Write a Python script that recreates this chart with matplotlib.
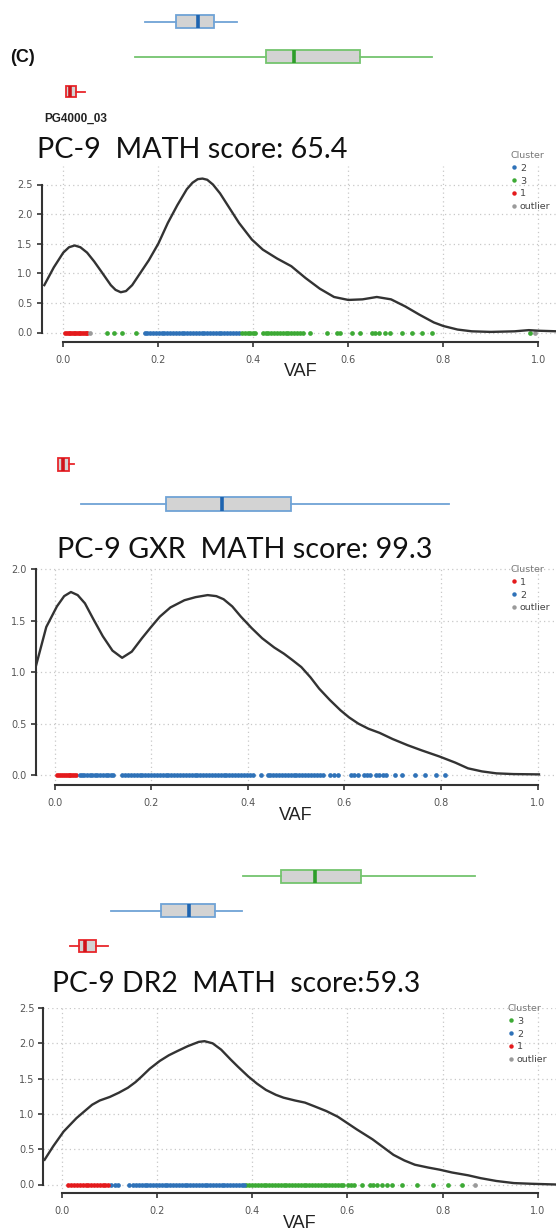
import numpy as np
import matplotlib
matplotlib.use("Agg")
import matplotlib.pyplot as plt
from matplotlib.lines import Line2D

# ---- data ----
# density curves: VAF -> density
p1_x = [-0.040, -0.020, 0.000, 0.012, 0.024, 0.036, 0.050, 0.065, 0.080, 0.100, 0.110, 0.121,
        0.132, 0.145, 0.160, 0.180, 0.200, 0.220, 0.240, 0.260, 0.272, 0.283, 0.293, 0.303,
        0.315, 0.330, 0.350, 0.370, 0.397, 0.420, 0.450, 0.480, 0.510, 0.540, 0.570, 0.600,
        0.630, 0.660, 0.690, 0.720, 0.750, 0.780, 0.800, 0.830, 0.860, 0.900, 0.950, 0.980,
        1.000, 1.040]
p1_y = [0.80, 1.10, 1.35, 1.44, 1.47, 1.44, 1.35, 1.20, 1.03, 0.80, 0.72, 0.68,
        0.70, 0.80, 0.98, 1.22, 1.50, 1.85, 2.15, 2.42, 2.53, 2.59, 2.60, 2.58,
        2.50, 2.35, 2.10, 1.85, 1.57, 1.40, 1.25, 1.12, 0.92, 0.74, 0.60, 0.55,
        0.56, 0.60, 0.56, 0.44, 0.30, 0.17, 0.11, 0.05, 0.02, 0.01, 0.02, 0.04,
        0.03, 0.02]

p2_x = [-0.039, -0.017, 0.005, 0.020, 0.034, 0.048, 0.063, 0.080, 0.100, 0.120, 0.140, 0.160,
        0.181, 0.200, 0.218, 0.240, 0.269, 0.292, 0.317, 0.335, 0.350, 0.368, 0.386, 0.408,
        0.430, 0.455, 0.475, 0.492, 0.511, 0.530, 0.548, 0.570, 0.592, 0.610, 0.629, 0.650,
        0.673, 0.700, 0.731, 0.760, 0.797, 0.830, 0.856, 0.885, 0.915, 0.950, 1.003]
p2_y = [1.05, 1.44, 1.64, 1.74, 1.78, 1.75, 1.67, 1.52, 1.35, 1.21, 1.14, 1.20,
        1.33, 1.44, 1.54, 1.63, 1.70, 1.73, 1.75, 1.74, 1.71, 1.64, 1.54, 1.43,
        1.33, 1.24, 1.18, 1.12, 1.05, 0.95, 0.84, 0.73, 0.63, 0.56, 0.50, 0.45,
        0.41, 0.35, 0.29, 0.24, 0.18, 0.12, 0.065, 0.035, 0.016, 0.009, 0.006]

p3_x = [-0.036, -0.018, 0.004, 0.031, 0.050, 0.064, 0.080, 0.101, 0.120, 0.139, 0.155, 0.168,
        0.185, 0.206, 0.225, 0.243, 0.265, 0.288, 0.300, 0.317, 0.335, 0.355, 0.370, 0.392,
        0.410, 0.429, 0.450, 0.466, 0.490, 0.511, 0.530, 0.556, 0.580, 0.600, 0.620, 0.653,
        0.675, 0.697, 0.720, 0.742, 0.770, 0.794, 0.820, 0.854, 0.880, 0.913, 0.950, 0.988,
        1.038]
p3_y = [0.35, 0.54, 0.75, 0.94, 1.05, 1.13, 1.19, 1.24, 1.30, 1.37, 1.45, 1.53,
        1.64, 1.75, 1.83, 1.89, 1.96, 2.02, 2.03, 2.00, 1.91, 1.77, 1.67, 1.53,
        1.43, 1.34, 1.27, 1.23, 1.19, 1.16, 1.11, 1.04, 0.96, 0.87, 0.78, 0.64,
        0.53, 0.42, 0.34, 0.28, 0.24, 0.21, 0.17, 0.13, 0.09, 0.05, 0.02, 0.01,
        0.00]

# VAF of each mutation, by cluster
p1_c1 = [0.004, 0.008, 0.011, 0.015, 0.018, 0.022, 0.025, 0.029, 0.032, 0.036, 0.040, 0.043,
         0.047, 0.050]
p1_c2 = [0.171, 0.177, 0.183, 0.189, 0.195, 0.201, 0.207, 0.213, 0.219, 0.225, 0.231, 0.237,
         0.243, 0.249, 0.255, 0.261, 0.267, 0.273, 0.279, 0.285, 0.291, 0.297, 0.303, 0.309,
         0.315, 0.321, 0.327, 0.333, 0.339, 0.345, 0.351, 0.357, 0.363, 0.369]
p1_c3 = [0.092, 0.106, 0.124, 0.152, 0.376, 0.382, 0.388, 0.394, 0.400, 0.404, 0.420, 0.426,
         0.432, 0.438, 0.444, 0.450, 0.456, 0.462, 0.468, 0.474, 0.480, 0.486, 0.492, 0.498,
         0.504, 0.520, 0.555, 0.576, 0.583, 0.608, 0.625, 0.650, 0.657, 0.664, 0.678, 0.688,
         0.713, 0.734, 0.755, 0.776, 0.983]
p1_out = [0.056, 0.994]

p2_c1 = [0.005, 0.009, 0.013, 0.017, 0.021, 0.025, 0.029, 0.033, 0.037, 0.041, 0.045]
p2_c2 = [0.052, 0.057, 0.062, 0.068, 0.073, 0.078, 0.084, 0.089, 0.094, 0.100, 0.106, 0.111,
         0.116, 0.122, 0.140, 0.146, 0.152, 0.158, 0.164, 0.170, 0.176, 0.182, 0.188, 0.194,
         0.200, 0.206, 0.212, 0.218, 0.224, 0.230, 0.236, 0.242, 0.248, 0.254, 0.260, 0.266,
         0.272, 0.278, 0.284, 0.290, 0.296, 0.302, 0.308, 0.314, 0.320, 0.326, 0.332, 0.338,
         0.344, 0.350, 0.356, 0.362, 0.368, 0.374, 0.380, 0.386, 0.392, 0.398, 0.404, 0.410,
         0.427, 0.441, 0.447, 0.453, 0.459, 0.465, 0.471, 0.477, 0.483, 0.489, 0.495, 0.501,
         0.507, 0.513, 0.519, 0.525, 0.531, 0.537, 0.543, 0.549, 0.555, 0.571, 0.578, 0.586,
         0.614, 0.621, 0.629, 0.640, 0.647, 0.654, 0.665, 0.672, 0.680, 0.687, 0.706, 0.720,
         0.746, 0.768, 0.790, 0.809]
p2_out = []

p3_c1 = [0.014, 0.020, 0.026, 0.032, 0.038, 0.044, 0.050, 0.056, 0.062, 0.068, 0.074, 0.080,
         0.086, 0.092, 0.098]
p3_c2 = [0.104, 0.111, 0.118, 0.142, 0.150, 0.156, 0.162, 0.168, 0.174, 0.180, 0.186, 0.192,
         0.198, 0.204, 0.210, 0.216, 0.222, 0.228, 0.234, 0.240, 0.246, 0.252, 0.258, 0.264,
         0.270, 0.276, 0.282, 0.288, 0.294, 0.300, 0.306, 0.312, 0.318, 0.324, 0.330, 0.336,
         0.342, 0.348, 0.354, 0.360, 0.366, 0.372, 0.378, 0.384]
p3_c3 = [0.388, 0.394, 0.400, 0.406, 0.412, 0.418, 0.424, 0.430, 0.436, 0.442, 0.448, 0.454,
         0.460, 0.466, 0.472, 0.478, 0.484, 0.490, 0.496, 0.502, 0.508, 0.514, 0.520, 0.526,
         0.532, 0.538, 0.544, 0.550, 0.556, 0.562, 0.568, 0.574, 0.580, 0.586, 0.592, 0.601,
         0.608, 0.615, 0.630, 0.648, 0.655, 0.662, 0.672, 0.683, 0.693, 0.714, 0.746, 0.781,
         0.812, 0.840]
p3_out = [0.868]

# boxplot five-number summaries: whislo, q1, med, q3, whishi
p1_box = {"2": [0.173, 0.238, 0.283, 0.317, 0.366],
          "3": [0.151, 0.426, 0.485, 0.625, 0.777],
          "1": [0.005, 0.005, 0.014, 0.027, 0.046]}
p2_box = {"1": [0.008, 0.008, 0.017, 0.030, 0.041],
          "2": [0.055, 0.231, 0.347, 0.489, 0.816]}
p3_box = {"3": [0.381, 0.461, 0.533, 0.628, 0.868],
          "2": [0.103, 0.208, 0.267, 0.322, 0.379],
          "1": [0.018, 0.036, 0.049, 0.073, 0.098]}

titles = ["PC-9  MATH score: 65.4", "PC-9 GXR  MATH score: 99.3", "PC-9 DR2  MATH  score:59.3"]
x_ticks = [0.0, 0.2, 0.4, 0.6, 0.8, 1.0]

# ---- styling ----
W, H = 556, 1231
PT_COL = {"1": "#E41A1C", "2": "#2F72B8", "3": "#3DAA35", "outlier": "#9A9A9A"}
EDGE_COL = {"1": "#E8262B", "2": "#6FA3D6", "3": "#74C46E"}
MED_COL = {"1": "#D0141A", "2": "#1E64B0", "3": "#2E9E2B"}
AX_COL = "#333333"

fig = plt.figure(figsize=(W / 100, H / 100), dpi=100)
fig.patch.set_facecolor("white")


def px_axes(l, t, r, b):
    return fig.add_axes([l / W, 1 - b / H, (r - l) / W, (b - t) / H])


def density_panel(box, x0, xs, y0, ys, yticks, curve_x, curve_y, clusters, order, leg_xy, vaf_y):
    l, t, r, b = box
    ax = px_axes(l, t, r, b)
    ax.set_xlim((l - x0) / xs, (r - x0) / xs)
    ax.set_ylim((y0 - b) / ys, (y0 - t) / ys)
    ax.grid(True, color="#c8c8c8", linestyle=(0, (1, 2.5)), linewidth=0.9)
    ax.set_axisbelow(True)
    for name in order:
        vals = clusters.get(name, [])
        if len(vals):
            ax.plot(vals, np.zeros(len(vals)), "o", ms=3.4, mec="none", color=PT_COL[name], zorder=2.5)
    ax.plot(curve_x, curve_y, color=AX_COL, lw=1.7, zorder=3, solid_joinstyle="round")
    for s in ["top", "right"]:
        ax.spines[s].set_visible(False)
    for s in ["left", "bottom"]:
        ax.spines[s].set_color(AX_COL)
        ax.spines[s].set_linewidth(1.5)
    ax.spines["left"].set_bounds(0, yticks[-1])
    ax.spines["bottom"].set_bounds(0, 1)
    ax.set_xticks(x_ticks)
    ax.set_xticklabels(["%.1f" % v for v in x_ticks])
    ax.set_yticks(yticks)
    ax.set_yticklabels(["%.1f" % v for v in yticks])
    ax.tick_params(axis="both", colors=AX_COL, labelcolor="#555555", labelsize=7, length=3.5, width=1.2)
    ax.tick_params(axis="x", pad=6)
    ax.tick_params(axis="y", pad=3)
    handles = [Line2D([], [], marker="o", ls="none", ms=3.2, mec="none", color=PT_COL[n]) for n in order]
    leg = ax.legend(handles, order, title="Cluster", loc="upper left",
                    bbox_to_anchor=(leg_xy[0] / W, 1 - leg_xy[1] / H), bbox_transform=fig.transFigure,
                    frameon=False, fontsize=6.8, title_fontsize=6.8, handlelength=0.6,
                    handletextpad=0.35, labelspacing=0.4, borderpad=0, borderaxespad=0,
                    alignment="left")
    leg.get_title().set_color("#777777")
    for txt in leg.get_texts():
        txt.set_color("#444444")
    fig.text((x0 + 0.5 * xs) / W, 1 - vaf_y / H, "VAF", ha="center", va="center",
             fontsize=13, color="#222222", family="Liberation Sans")
    return ax


def box_panel(box, x0, xs, stats, rows, widths):
    l, t, r, b = box
    ax = px_axes(l, t, r, b)
    ax.set_xlim((l - x0) / xs, (r - x0) / xs)
    ax.set_ylim(b, t)
    ax.axis("off")
    for (name, v), row, w in zip(stats.items(), rows, widths):
        st = [{"whislo": v[0], "q1": v[1], "med": v[2], "q3": v[3], "whishi": v[4]}]
        ax.bxp(st, positions=[row], widths=w, orientation="horizontal", patch_artist=True,
               showfliers=False, showcaps=False,
               boxprops=dict(facecolor="#D3D3D3", edgecolor=EDGE_COL[name], linewidth=1.3),
               whiskerprops=dict(color=EDGE_COL[name], linewidth=1.3),
               medianprops=dict(color=MED_COL[name], linewidth=2.6, solid_capstyle="butt"))
    return ax


# panel 1
box_panel((41.7, 0, 556, 110), 63.3, 475, p1_box, [21.7, 56.7, 91.7], [13, 13, 11])
density_panel((41.7, 166, 556, 341.7), 63.3, 475, 332.5, 59.2, [0.0, 0.5, 1.0, 1.5, 2.0, 2.5],
              p1_x, p1_y, {"1": p1_c1, "2": p1_c2, "3": p1_c3, "outlier": p1_out},
              ["2", "3", "1", "outlier"], (511, 151), 372)

# panel 2
box_panel((35.5, 445, 556, 525), 54.5, 483, p2_box, [464, 503.5], [13, 14])
density_panel((35.5, 567.5, 556, 785), 54.5, 483, 775, 102.8, [0.0, 0.5, 1.0, 1.5, 2.0],
              p2_x, p2_y, {"1": p2_c1, "2": p2_c2, "outlier": p2_out},
              ["1", "2", "outlier"], (511, 565), 815)

# panel 3
box_panel((43.3, 855, 556, 965), 61.7, 476, p3_box, [876, 910.7, 945.7], [13, 13, 12])
density_panel((43.3, 1007.5, 556, 1192.7), 61.7, 476, 1184.5, 70.6, [0.0, 0.5, 1.0, 1.5, 2.0, 2.5],
              p3_x, p3_y, {"1": p3_c1, "2": p3_c2, "3": p3_c3, "outlier": p3_out},
              ["3", "2", "1", "outlier"], (508, 1004), 1223)

# text labels
fig.text(10.6 / W, 1 - 58 / H, "(C)", fontsize=13, fontweight="bold", va="center",
         family="Liberation Sans", color="#111111")
fig.text(44.3 / W, 1 - 118.5 / H, "PG4000_03", fontsize=8.5, fontweight="bold", va="center",
         family="Liberation Sans", color="#222222")

title_pos = [(37.2, 157.5, 310), (56.7, 558.3, 376), (52.5, 991.7, 368)]
title_objs = []
for txt, (x, y, w) in zip(titles, title_pos):
    title_objs.append((fig.text(x / W, 1 - y / H, txt, fontsize=20, family="Lato", va="baseline",
                                color="#111111"), w))

# scale titles so their width matches the figure
fig.canvas.draw()
rend = fig.canvas.get_renderer()
for t, w in title_objs:
    bb = t.get_window_extent(rend)
    t.set_fontsize(t.get_fontsize() * w / bb.width)

fig.savefig("out.png", dpi=100, facecolor="white")
